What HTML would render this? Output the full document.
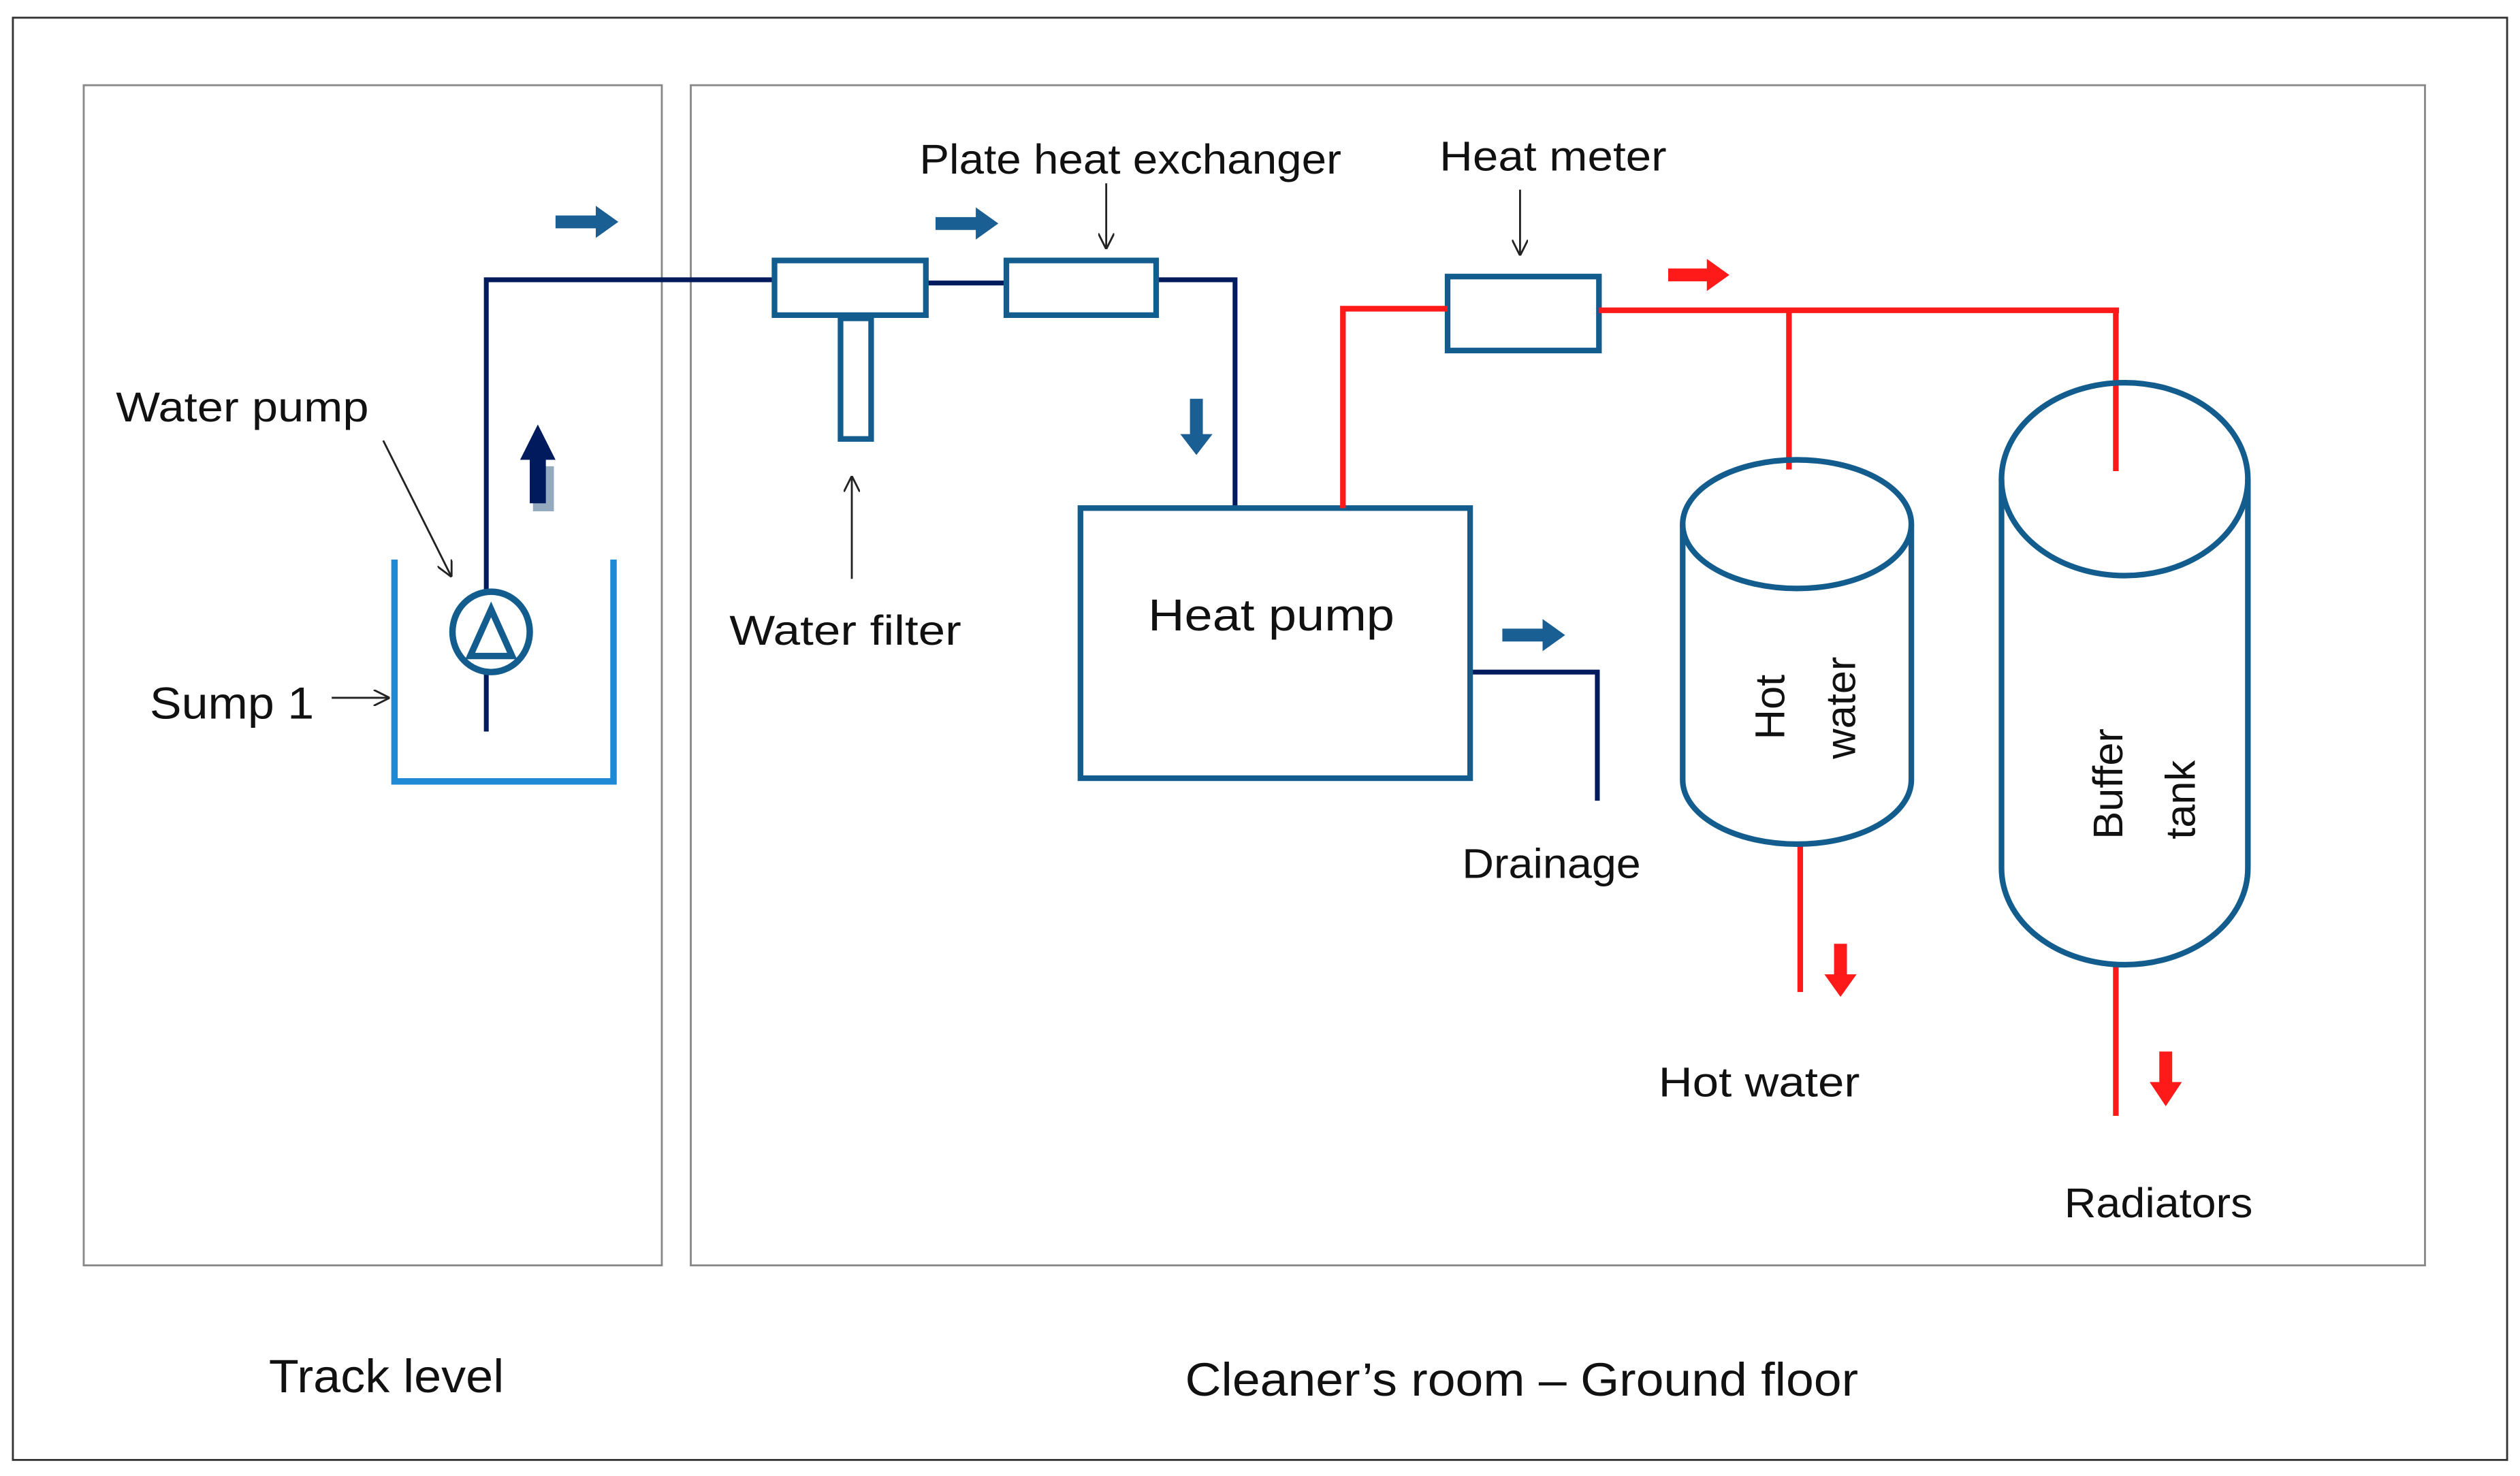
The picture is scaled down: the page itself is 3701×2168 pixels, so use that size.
<!DOCTYPE html>
<html><head><meta charset="utf-8"><style>
html,body{margin:0;padding:0;background:#fff;width:3701px;height:2168px;overflow:hidden}
svg{display:block}
text{font-family:"Liberation Sans",sans-serif;fill:#111}
</style></head><body>
<svg width="3701" height="2168" viewBox="0 0 1565 918" preserveAspectRatio="none" xmlns="http://www.w3.org/2000/svg">
<defs>
<marker id="ah" viewBox="0 0 10 10" refX="9" refY="5" markerWidth="10" markerHeight="10" orient="auto" markerUnits="userSpaceOnUse"><path d="M0,0 L10,5 L0,10" fill="none" stroke="#222" stroke-width="1.2"/></marker>
</defs>
<rect x="8" y="11" width="1549" height="897" fill="none" stroke="#333" stroke-width="1.2"/>
<rect x="52" y="53" width="359" height="734" fill="none" stroke="#888" stroke-width="1.2"/>
<rect x="429" y="53" width="1077" height="734" fill="none" stroke="#888" stroke-width="1.2"/>

<g stroke="#001a5e" stroke-width="3" fill="none">
<polyline points="302,455 302,174 481,174"/>
<line x1="575" y1="176" x2="625" y2="176"/>
<polyline points="718,174 767,174 767,316"/>
<polyline points="913,418 992,418 992,498"/>
</g>
<g stroke="#135d8e" stroke-width="3.5" fill="#fff">
<rect x="481" y="162" width="94" height="34"/>
<rect x="522" y="198" width="19" height="75"/>
<rect x="625" y="162" width="93" height="34"/>
<rect x="671" y="316" width="242" height="168"/>
<rect x="899" y="172" width="94" height="46"/>
</g>
<g stroke="#ff1a1a" stroke-width="3.5" fill="none">
<polyline points="834,316 834,192 899,192"/>
<line x1="993" y1="193" x2="1316" y2="193"/>
<line x1="1111" y1="193" x2="1111" y2="292"/>
<line x1="1314" y1="193" x2="1314" y2="293"/>
<line x1="1118" y1="525" x2="1118" y2="617"/>
<line x1="1314" y1="600" x2="1314" y2="694"/>
</g>
<g stroke="#135d8e" stroke-width="3.5" fill="none">
<path d="M1045,326 L1045,485 A71,40 0 0 0 1187,485 L1187,326"/>
<ellipse cx="1116" cy="326" rx="71" ry="40"/>
<path d="M1243,298 L1243,540 A76.5,60 0 0 0 1396,540 L1396,298"/>
<ellipse cx="1319.5" cy="298" rx="76.5" ry="60"/>
</g>
<g stroke="#1e8ad6" stroke-width="4" fill="none">
<polyline points="245,348 245,486 381,486 381,348"/>
</g>
<ellipse cx="305" cy="393" rx="24" ry="25" fill="#fff" stroke="#135d8e" stroke-width="4"/>
<path d="M305,379 L318,408 L292,408 Z" fill="none" stroke="#135d8e" stroke-width="4"/>
<g fill="#1a5f94">
<path d="M345,134 h25 v-6 l14,10 l-14,10 v-6 h-25z"/>
<path d="M581,135 h25 v-6 l14,10 l-14,10 v-6 h-25z"/>
<path d="M739,248 v22 h-6 l10,13 l10,-13 h-6 v-22z"/>
<path d="M933,391 h25 v-6 l14,10 l-14,10 v-6 h-25z"/>
</g>
<rect x="331" y="290" width="13" height="28" fill="#94aabf"/>
<path d="M329,313 v-27 h-6 l11,-22 l11,22 h-6 v27z" fill="#001a5e"/>
<g fill="#ff1a1a">
<path d="M1036,167 h24 v-6 l14,10 l-14,10 v-6 h-24z"/>
<path d="M1139,587 v19 h-6 l10,14 l10,-14 h-6 v-19z"/>
<path d="M1341,654 v19 h-6 l10,15 l10,-15 h-6 v-19z"/>
</g>
<g stroke="#222" stroke-width="1.2" fill="none" marker-end="url(#ah)">
<line x1="238" y1="274" x2="280" y2="358"/>
<line x1="206" y1="434" x2="241" y2="434"/>
<line x1="529" y1="360" x2="529" y2="297"/>
<line x1="687" y1="114" x2="687" y2="154"/>
<line x1="944" y1="118" x2="944" y2="158"/>
</g>
<g font-size="26" lengthAdjust="spacingAndGlyphs">
<text x="72" y="262" textLength="157" lengthAdjust="spacingAndGlyphs">Water pump</text>
<text x="93" y="447" font-size="28" textLength="102" lengthAdjust="spacingAndGlyphs">Sump 1</text>
<text x="453" y="401" textLength="144" lengthAdjust="spacingAndGlyphs">Water filter</text>
<text x="571" y="108" textLength="262" lengthAdjust="spacingAndGlyphs">Plate heat exchanger</text>
<text x="894" y="106" textLength="141" lengthAdjust="spacingAndGlyphs">Heat meter</text>
<text x="713" y="392" font-size="28" textLength="153" lengthAdjust="spacingAndGlyphs">Heat pump</text>
<text x="908" y="546" textLength="111" lengthAdjust="spacingAndGlyphs">Drainage</text>
<text x="1030" y="682" textLength="125" lengthAdjust="spacingAndGlyphs">Hot water</text>
<text x="1282" y="757" textLength="117" lengthAdjust="spacingAndGlyphs">Radiators</text>
<text x="167" y="866" font-size="29" textLength="146" lengthAdjust="spacingAndGlyphs">Track level</text>
<text x="736" y="868" font-size="29" textLength="418" lengthAdjust="spacingAndGlyphs">Cleaner’s room – Ground floor</text>
<text transform="translate(1108,460) rotate(-90)">Hot</text>
<text transform="translate(1152,472) rotate(-90)">water</text>
<text transform="translate(1318,522) rotate(-90)">Buffer</text>
<text transform="translate(1363,522) rotate(-90)">tank</text>
</g>
</svg>
</body></html>
